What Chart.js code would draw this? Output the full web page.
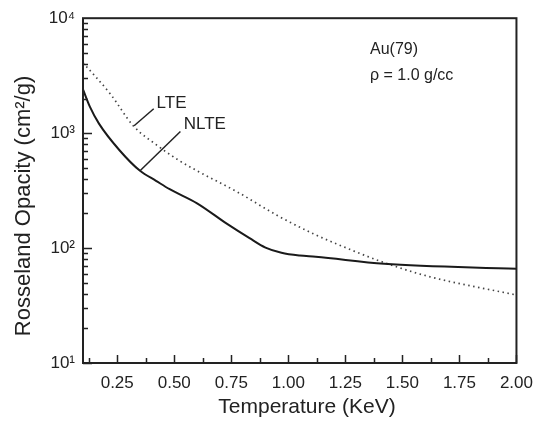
<!DOCTYPE html>
<html>
<head>
<meta charset="utf-8">
<script src="https://cdn.jsdelivr.net/npm/chart.js@4.4.1/dist/chart.umd.min.js"></script>
<style>
  html, body { margin: 0; padding: 0; background: #fff; }
  #wrap { width: 543px; height: 426px; position: relative; }
</style>
</head>
<body>
<div id="wrap"><canvas id="c"></canvas></div>
<script>
// Rosseland mean opacity of gold at 1.0 g/cc, LTE vs NLTE
const nlteTemps   = [0.10, 0.13, 0.17, 0.26, 0.35, 0.42, 0.48, 0.60, 0.73, 0.83, 0.90, 0.97, 1.05, 1.12, 1.42, 2.00];
const nlteOpacity = [2400, 1700, 1210, 710, 470, 385, 325, 245, 163, 122, 101, 91, 86, 84, 73, 66];

const lteTemps   = [0.10, 0.22, 0.32, 0.43, 0.52, 0.60, 0.78, 0.95, 1.11, 1.21, 1.41, 1.61, 2.00];
const lteOpacity = [4100, 2190, 1160, 770, 580, 470, 305, 193, 133, 109, 76, 57, 39];

const xTickValues = [0.25, 0.50, 0.75, 1.00, 1.25, 1.50, 1.75, 2.00];
const yTickValues = [10, 100, 1000, 10000];
const yTickLabels = ['10\u00B9', '10\u00B2', '10\u00B3', '10\u2074'];

const FONT = '"Liberation Sans", Arial, Helvetica, sans-serif';
const INK = '#222';

const toPoints = (xs, ys) => xs.map((x, i) => ({ x: x, y: ys[i] }));

// Curve labels with leader lines, in data coordinates
const curveLabels = [
  { text: 'LTE',  from: [0.324, 1160], to: [0.41, 1630], at: [0.488, 1830] },
  { text: 'NLTE', from: [0.35, 470],   to: [0.527, 1035], at: [0.634, 1190] }
];

const framePlugin = {
  id: 'frame',
  afterDatasetsDraw(chart) {
    const { ctx, chartArea: a, scales: { x, y } } = chart;
    ctx.save();
    ctx.strokeStyle = INK;
    ctx.lineWidth = 2;
    ctx.strokeRect(a.left, a.top, a.right - a.left, a.bottom - a.top);

    // inward ticks on the left axis
    ctx.lineWidth = 1.5;
    ctx.beginPath();
    for (let d = 10; d < 10000; d *= 10) {
      for (let k = 1; k <= 9; k++) {
        const py = Math.round(y.getPixelForValue(k * d)) + 0.5;
        const len = k === 1 ? 9 : 5;
        ctx.moveTo(a.left, py);
        ctx.lineTo(a.left + len, py);
      }
    }
    // inward ticks on the bottom axis, majors plus midpoints
    const step = xTickValues[1] - xTickValues[0];
    for (let v = xTickValues[0] - step / 2; v <= x.max + 1e-9; v += step / 2) {
      const px = Math.round(x.getPixelForValue(v)) + 0.5;
      const major = Math.abs(v / step - Math.round(v / step)) < 1e-6;
      ctx.moveTo(px, a.bottom);
      ctx.lineTo(px, a.bottom - (major ? 8 : 5));
    }
    ctx.stroke();

    // leader lines and curve names
    ctx.lineWidth = 1.5;
    ctx.fillStyle = INK;
    ctx.font = '17px ' + FONT;
    ctx.textAlign = 'center';
    ctx.textBaseline = 'middle';
    curveLabels.forEach(l => {
      ctx.beginPath();
      ctx.moveTo(x.getPixelForValue(l.from[0]), y.getPixelForValue(l.from[1]));
      ctx.lineTo(x.getPixelForValue(l.to[0]), y.getPixelForValue(l.to[1]));
      ctx.stroke();
      ctx.fillText(l.text, x.getPixelForValue(l.at[0]), y.getPixelForValue(l.at[1]));
    });

    // material annotation
    ctx.textAlign = 'left';
    ctx.font = '16px ' + FONT;
    ctx.fillText('Au(79)', a.left + 287, a.top + 31);
    ctx.fillText('\u03C1 = 1.0 g/cc', a.left + 287, a.top + 57);

    // axis titles
    ctx.textAlign = 'center';
    ctx.font = '21px ' + FONT;
    ctx.fillText('Temperature (KeV)', 307, 407);
    ctx.save();
    ctx.translate(24, 206);
    ctx.rotate(-Math.PI / 2);
    ctx.font = '22px ' + FONT;
    ctx.fillText('Rosseland Opacity (cm\u00B2/g)', 0, 0);
    ctx.restore();
    ctx.restore();
  }
};

new Chart(document.getElementById('c'), {
  type: 'line',
  data: {
    datasets: [
      {
        label: 'NLTE',
        data: toPoints(nlteTemps, nlteOpacity),
        borderColor: '#1a1a1a',
        borderWidth: 2,
        pointRadius: 0,
        fill: false,
        cubicInterpolationMode: 'monotone'
      },
      {
        label: 'LTE',
        data: toPoints(lteTemps, lteOpacity),
        borderColor: '#444',
        borderWidth: 1.7,
        borderDash: [1.5, 3.5],
        pointRadius: 0,
        fill: false,
        cubicInterpolationMode: 'monotone'
      }
    ]
  },
  options: {
    responsive: true,
    maintainAspectRatio: false,
    animation: false,
    events: [],
    layout: { padding: { top: 13, right: 19, left: 0, bottom: 0 } },
    plugins: { legend: { display: false }, tooltip: { enabled: false } },
    scales: {
      x: {
        type: 'linear',
        min: 0.1,
        max: 2.0,
        grid: { display: false, drawTicks: false },
        border: { display: false },
        afterBuildTicks: s => { s.ticks = xTickValues.map(v => ({ value: v })); },
        afterFit: s => { s.height = 63; },
        ticks: {
          padding: 10,
          color: INK,
          font: { family: FONT, size: 17 },
          maxRotation: 0,
          autoSkip: false,
          callback: v => Number(v).toFixed(2)
        }
      },
      y: {
        type: 'logarithmic',
        min: 10,
        max: 10000,
        grid: { display: false, drawTicks: false },
        border: { display: false },
        afterBuildTicks: s => { s.ticks = yTickValues.map(v => ({ value: v })); },
        afterFit: s => { s.width = 83; },
        ticks: {
          padding: 8,
          color: INK,
          font: { family: FONT, size: 17 },
          autoSkip: false,
          callback: v => yTickLabels[yTickValues.indexOf(Number(v))] || ''
        }
      }
    }
  },
  plugins: [framePlugin]
});
</script>
</body>
</html>
